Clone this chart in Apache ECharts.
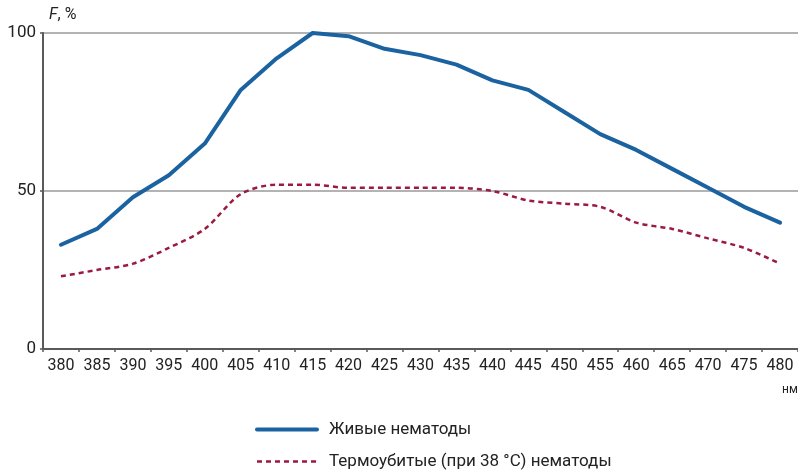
<!DOCTYPE html>
<html>
<head>
<meta charset="utf-8">
<script src="https://cdn.jsdelivr.net/npm/echarts@6/dist/echarts.min.js"></script>
<style>
  html, body { margin: 0; padding: 0; background: #fff; }
  #chart { width: 798px; height: 475px; }
</style>
</head>
<body>
<div id="chart"></div>
<script>
// Wavelength, nm
const wavelengths = ['380','385','390','395','400','405','410','415','420','425','430',
                     '435','440','445','450','455','460','465','470','475','480'];
// Relative fluorescence F, %
const liveValues = [33, 38, 48, 55, 65, 82, 92, 100, 99, 95, 93,
                    90, 85, 82, 75, 68, 63, 57, 51, 45, 40];
const heatKilledValues = [23, 25, 27, 32, 38, 49, 52, 52, 51, 51, 51,
                          51, 50, 47, 46, 45, 40, 38, 35, 32, 27];
const yTicks = [0, 50, 100];

const seriesNames = ['Живые нематоды', 'Термоубитые (при 38 °C) нематоды'];
const FONT = 'Roboto, "Noto Sans", sans-serif';

const chart = echarts.init(document.getElementById('chart'), null, { renderer: 'canvas' });

chart.setOption({
  animation: false,
  textStyle: { fontFamily: FONT },
  grid: { left: 43, top: 33, width: 760, height: 316, containLabel: false },
  legend: {
    orient: 'vertical',
    left: 255,
    top: 421,
    padding: 0,
    itemWidth: 60,
    itemHeight: 20,
    itemGap: 15,
    itemStyle: { opacity: 0 },
    lineStyle: { width: 'inherit' },
    textStyle: { fontFamily: FONT, fontSize: 17, color: '#222', padding: [0, 0, 0, 7] },
    data: seriesNames
  },
  xAxis: {
    type: 'category',
    data: wavelengths,
    boundaryGap: true,
    axisLine: { lineStyle: { color: '#5a5a5a', width: 2 } },
    axisTick: { show: true, length: 3, lineStyle: { color: '#5a5a5a', width: 1.5 } },
    axisLabel: { interval: 0, hideOverlap: false, color: '#222', fontSize: 16, margin: 9, fontFamily: FONT },
    splitLine: { show: false }
  },
  yAxis: {
    type: 'value',
    min: yTicks[0],
    max: yTicks[yTicks.length - 1],
    interval: 50,
    name: '{i|F}, %',
    nameLocation: 'end',
    nameGap: 10,
    nameTextStyle: {
      align: 'left',
      padding: [0, 0, 0, 6],
      fontSize: 16,
      color: '#222',
      rich: { i: { fontStyle: 'italic', fontSize: 16, color: '#222', fontFamily: FONT } }
    },
    axisLine: { show: true, lineStyle: { color: '#5a5a5a', width: 2 } },
    axisTick: { show: true, length: 3, lineStyle: { color: '#5a5a5a', width: 1.5 } },
    axisLabel: { color: '#222', fontSize: 17, margin: 7, fontFamily: FONT },
    splitLine: { show: true, lineStyle: { color: '#9a9a9a', width: 1.5 } }
  },
  graphic: [{
    type: 'text',
    left: 782,
    top: 384,
    style: { text: 'нм', fontSize: 12, fill: '#222', fontFamily: FONT }
  }],
  series: [
    {
      name: seriesNames[0],
      type: 'line',
      data: liveValues,
      symbol: 'none',
      lineStyle: { color: '#1b63a0', width: 4, cap: 'round', join: 'round' },
      itemStyle: { color: '#1b63a0' }
    },
    {
      name: seriesNames[1],
      type: 'line',
      data: heatKilledValues,
      symbol: 'none',
      smooth: 0.3,
      lineStyle: { color: '#9b1a40', width: 2.5, type: [5, 4] },
      itemStyle: { color: '#9b1a40' }
    }
  ]
});
</script>
</body>
</html>
